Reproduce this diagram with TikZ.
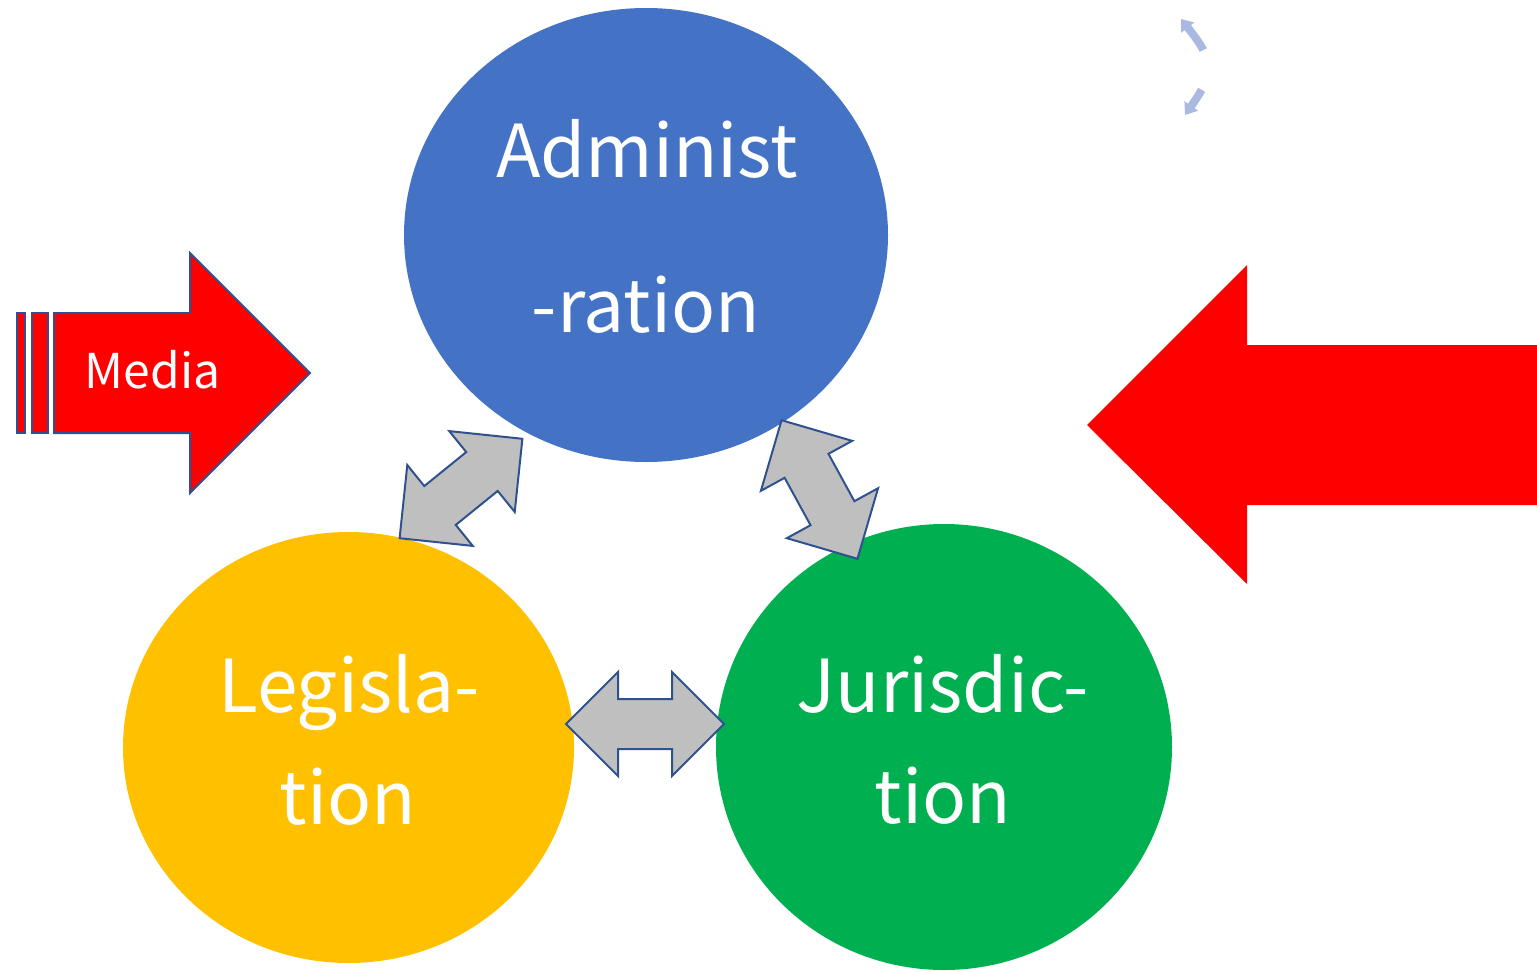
\documentclass[tikz,border=0pt]{standalone}
\usepackage{fontspec}
\setmainfont{Noto Sans CJK JP}
\usepackage{xcolor}
\definecolor{admBlue}{HTML}{4472C4}
\definecolor{legYellow}{HTML}{FFC000}
\definecolor{jurGreen}{HTML}{00B050}
\definecolor{arrGrey}{HTML}{BFBFBF}
\definecolor{edgeBlue}{HTML}{2F528F}
\definecolor{paleBlue}{HTML}{A9B9E1}
\usepackage{tikz}
\usetikzlibrary{arrows.meta}
\usetikzlibrary{shapes.geometric}
\tikzset{branch/.style = {ellipse, inner sep = 0pt}}
\tikzset{lbl/.style = {text = white, inner sep = 0pt, anchor = base, font = \fontsize{73}{73}\selectfont}}
\tikzset{dbl/.pic = {
	\draw[fill = arrGrey, draw = edgeBlue, line width = 2pt]
		(-79,0) -- (-27,-52) -- (-27,-25) -- (27,-25) -- (27,-52) -- (79,0)
		-- (27,52) -- (27,25) -- (-27,25) -- (-27,52) -- cycle;
}}

\begin{document}
\begin{tikzpicture}[x = 1pt, y = -1pt]
	\useasboundingbox (0,0) rectangle (1537,972);

	%% Powers
	\node[branch, fill = admBlue, minimum width = 484pt, minimum height = 454pt] (admin) at (646, 235) {};
	\node[branch, fill = legYellow, minimum width = 451pt, minimum height = 431pt] (legis) at (348.5, 747.5) {};
	\node[branch, fill = jurGreen, minimum width = 456pt, minimum height = 446pt] (juris) at (944, 747) {};

	\node[lbl] (admin1) at (647, 177) {Administ};
	\node[lbl] (admin2) at (646, 332) {-ration};
	\node[lbl] (legis1) at (349, 712) {Legisla-};
	\node[lbl] (legis2) at (348, 824) {tion};
	\node[lbl] (juris1) at (943, 712) {Jurisdic-};
	\node[lbl] (juris2) at (943, 823) {tion};

	%% Links between powers
	\pic[rotate = 39] at (461, 488.5) {dbl};
	\pic[rotate = -61.3] at (819.5, 489.5) {dbl};
	\pic at (645, 724) {dbl};

	%% Media
	\draw[fill = red, draw = edgeBlue, line width = 2pt] (17,313) rectangle (25,433);
	\draw[fill = red, draw = edgeBlue, line width = 2pt] (32,313) rectangle (48,433);
	\draw[fill = red, draw = edgeBlue, line width = 2pt]
		(54,313) -- (190,313) -- (190,253) -- (310,373) -- (190,493) -- (190,433) -- (54,433) -- cycle;
	\node[text = white, inner sep = 0pt, anchor = base, font = \fontsize{48}{48}\selectfont] (media) at (152.5, 388) {Media};

	%% Big arrow from the right
	\fill[red] (1087,425) -- (1247,265) -- (1247,345) -- (1537,345) -- (1537,505) -- (1247,505) -- (1247,584) -- cycle;

	%% Small dashed arrow
	\coordinate (dtop) at (1181, 19);
	\coordinate (dbot) at (1185, 115);
	\draw[paleBlue, line width = 8pt, dash pattern = on 28pt off 42pt,
		{Triangle[length = 11pt, width = 16pt]}-{Triangle[length = 11pt, width = 16pt]}]
		(dtop) .. controls (1215, 62) and (1215, 72) .. (dbot);

\end{tikzpicture}
\end{document}
